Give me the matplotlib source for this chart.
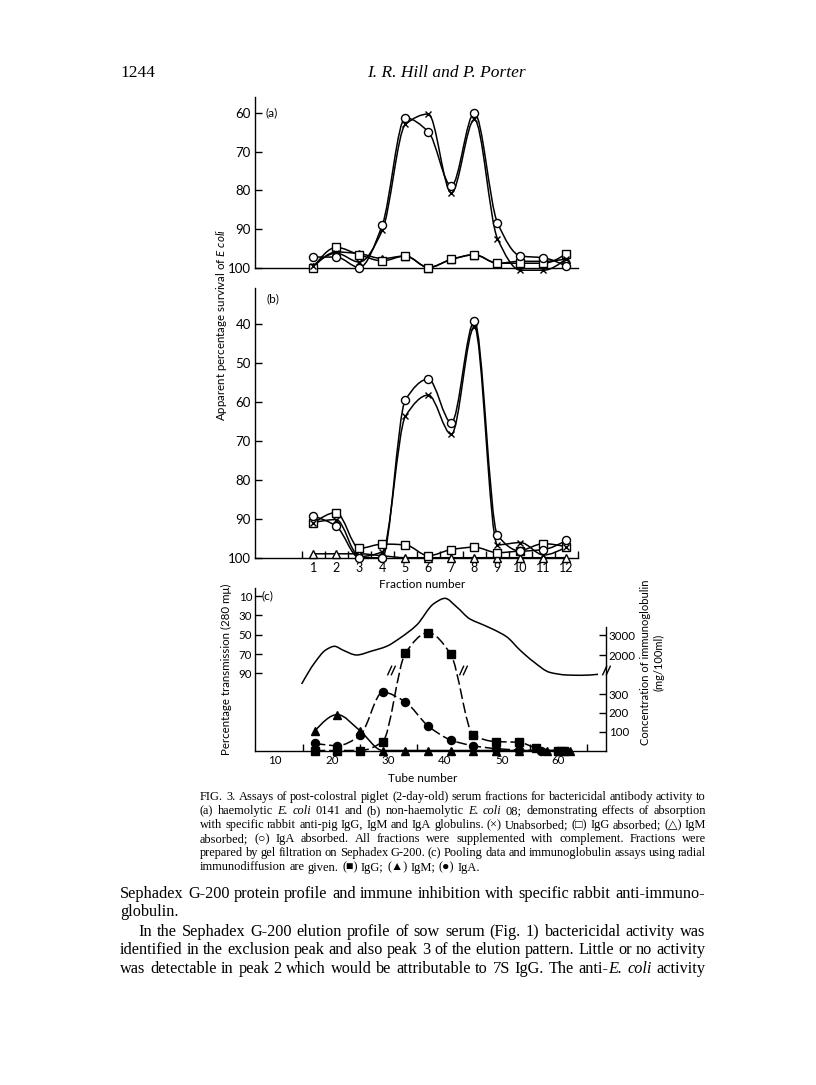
import numpy as np
import matplotlib
matplotlib.use("Agg")
import matplotlib.pyplot as plt
from matplotlib.path import Path
from matplotlib.patches import PathPatch

W, H = 816, 1085

# ---- data ----
fractions = np.arange(1, 13)

# (a) haemolytic E. coli 0141, apparent % survival
a_unabs = [99.5, 96.3, 98.6, 90.4, 63.0, 60.3, 80.7, 61.7, 92.5, 100.7, 100.7, 97.7]
a_igg = [100.0, 94.8, 96.7, 98.3, 97.0, 100.0, 97.9, 96.7, 98.9, 98.9, 98.9, 96.4]
a_igm = [99.9, 96.0, 96.4, 97.7, 97.0, 100.0, 97.9, 96.7, 98.9, 98.4, 98.4, 97.8]
a_iga = [97.3, 97.3, 100.0, 89.0, 61.3, 64.9, 78.9, 60.0, 88.4, 97.0, 97.5, 99.7]

# (b) non-haemolytic E. coli 08
b_unabs = [91.0, 90.2, 99.7, 98.5, 63.7, 58.2, 68.3, 40.6, 96.7, 96.1, 99.3, 97.2]
b_igg = [91.2, 88.4, 97.6, 96.5, 96.7, 99.5, 97.9, 97.3, 98.7, 98.2, 96.4, 97.2]
b_igm = [99.0, 99.0, 99.0, 99.5, 100.0, 100.0, 100.0, 100.0, 100.0, 100.0, 100.0, 100.0]
b_iga = [89.3, 91.9, 100.0, 100.0, 59.5, 54.1, 65.3, 39.2, 94.2, 98.3, 97.9, 95.5]

# (c) protein profile, % transmission at 280 mu
tube_prot = [14.7, 17, 19, 20.5, 22, 24.4, 27, 29.7, 32, 35, 38, 40, 42, 44.4, 46,
             48.5, 50.9, 53.2, 55.6, 58.5, 61.5, 64, 67]
trans_prot = [101, 79, 65.6, 62, 66, 71, 67, 62, 53.7, 40, 18, 12.4, 21, 33.8, 38,
              44.5, 52.3, 65.8, 77.9, 89, 91.7, 92, 91]

# (c) immunoglobulin concentration, mg/100 ml
tube_igg = [17, 21, 25, 29, 33, 37, 41, 45, 49, 53, 56, 60, 61]
conc_igg = [0, 0, 0, 47, 2085, 3115, 2035, 82, 47, 44, 15, 0, 0]
tube_iga = [17, 21, 25, 29, 33, 37, 41, 45, 49, 53, 57, 60, 61]
conc_iga = [38, 26, 80, 310, 258, 131, 56, 25, 10, 3, 0, 0, 0]
tube_igm = [17, 21, 25, 29, 33, 37, 41, 45, 49, 53, 58, 62]
conc_igm = [103, 191, 105, 0, 0, 0, 0, 0, 0, 0, 0, 0]

plt.rcParams["font.family"] = ["Lato", "DejaVu Sans"]
plt.rcParams["mathtext.fontset"] = "custom"
plt.rcParams["mathtext.it"] = "Lato:italic"
plt.rcParams["mathtext.rm"] = "Lato"

LW = 1.1


def mono_path(x, y):
    # monotone cubic (Fritsch-Carlson) drawn as bezier segments
    x = np.asarray(x, float)
    y = np.asarray(y, float)
    h = np.diff(x)
    d = np.diff(y) / h
    n = len(x)
    m = np.zeros(n)
    for i in range(1, n - 1):
        if d[i - 1] * d[i] > 0:
            h0, h1 = h[i - 1], h[i]
            m[i] = 3 * (h0 + h1) / ((2 * h1 + h0) / d[i - 1] + (h1 + 2 * h0) / d[i])
    m[0] = (3 * d[0] - m[1]) / 2 if n > 2 else d[0]
    m[-1] = (3 * d[-1] - m[-2]) / 2 if n > 2 else d[-1]
    verts = [(x[0], y[0])]
    codes = [Path.MOVETO]
    for i in range(n - 1):
        verts += [(x[i] + h[i] / 3, y[i] + m[i] * h[i] / 3),
                  (x[i + 1] - h[i] / 3, y[i + 1] - m[i + 1] * h[i] / 3),
                  (x[i + 1], y[i + 1])]
        codes += [Path.CURVE4] * 3
    return np.array(verts), codes


def curve(ax, x, y, fwd=None, inv=None, **kw):
    if fwd is not None:
        v, c = mono_path(x, fwd(np.asarray(y, float)))
        v[:, 1] = inv(v[:, 1])
    else:
        v, c = mono_path(x, y)
    ax.add_patch(PathPatch(Path(v, c), fill=False, lw=LW, color="black",
                           clip_on=False, **kw))


def marks(ax, x, y, m, ms, filled=False, z=5):
    ax.plot(x, y, linestyle="none", marker=m, ms=ms,
            mfc="black" if filled else "white", mec="black", mew=1.0,
            clip_on=False, zorder=z)


fig = plt.figure(figsize=(W / 100, H / 100), dpi=100)


def box(x0, y0, x1, y1):
    return [x0 / W, 1 - y1 / H, (x1 - x0) / W, (y1 - y0) / H]


def survival_panel(ax, top, series):
    ax.patch.set_visible(False)
    ax.set_xlim(-1.53, 12.5)
    ax.set_ylim(100, top)
    for s in ("top", "right"):
        ax.spines[s].set_visible(False)
    for s in ("left", "bottom"):
        ax.spines[s].set_linewidth(1.0)
    ax.tick_params(axis="y", direction="in", length=5, width=1.0, labelsize=9.5, pad=3)
    for vals, m, ms in series:
        curve(ax, fractions, vals)
        marks(ax, fractions, vals, m, ms)


# (a)
ax_a = fig.add_axes(box(255, 97, 578, 267.5))
survival_panel(ax_a, 55.9, [(a_igm, "^", 5.2), (a_igg, "s", 5.2), (a_unabs, "x", 4.8),
                            (a_iga, "o", 5.8)])
ax_a.set_yticks([60, 70, 80, 90, 100])
ax_a.set_xticks([])
ax_a.text(-1.09, 60, "(a)", fontsize=8.5, va="center")

# (b)
ax_b = fig.add_axes(box(255, 288, 578, 557.7))
survival_panel(ax_b, 30.7, [(b_igm, "^", 5.2), (b_igg, "s", 5.2), (b_unabs, "x", 4.8),
                            (b_iga, "o", 5.8)])
ax_b.set_yticks([40, 50, 60, 70, 80, 90, 100])
ax_b.set_xticks(np.arange(0.5, 13, 1))
ax_b.set_xticklabels([])
ax_b.set_xticks(fractions, minor=True)
ax_b.set_xticklabels([str(f) for f in fractions], minor=True)
ax_b.tick_params(axis="x", which="major", direction="in", length=5, width=1.0)
ax_b.tick_params(axis="x", which="minor", length=0, labelsize=9, pad=3)
ax_b.text(-1.05, 33.6, "(b)", fontsize=8.5, va="center")
fig.text(422 / W, 1 - 585 / H, "Fraction number", fontsize=8.5, ha="center", va="center")

fig.text(222 / W, 1 - 325 / H, r"Apparent percentage survival of $\mathit{E\ coli}$",
         rotation=90, fontsize=8.3, ha="center", va="center")

# (c)
ax_c = fig.add_axes(box(255, 588, 606, 750.5))
ax_c.patch.set_visible(False)
ax_c.set_xlim(6.47, 68.4)
ax_c.set_ylim(169.8, 1.7)
for s in ("top", "right"):
    ax_c.spines[s].set_visible(False)
for s in ("left", "bottom"):
    ax_c.spines[s].set_linewidth(1.0)
ax_c.set_yticks([10, 30, 50, 70, 90])
ax_c.tick_params(axis="y", direction="in", length=5, width=1.0, labelsize=8.3, pad=2)
ax_c.set_xticks(np.arange(15, 66, 10))
ax_c.set_xticklabels([])
ax_c.set_xticks(np.arange(10, 61, 10), minor=True)
ax_c.set_xticklabels([str(t) for t in range(10, 61, 10)], minor=True)
ax_c.tick_params(axis="x", which="major", direction="in", length=5, width=1.0)
ax_c.tick_params(axis="x", which="minor", length=0, labelsize=8.3, pad=3)
fig.text(423 / W, 1 - 778 / H, "Tube number", fontsize=8.5, ha="center", va="center")
ax_c.set_ylabel("Percentage transmission (280 m\u03bc)", fontsize=8.3, labelpad=5)
ax_c.text(7.6, 10, "(c)", fontsize=8.5, va="center")
curve(ax_c, tube_prot, trans_prot)


def fwd(c):
    c = np.asarray(c, float)
    return np.where(c <= 400, c * 0.188,
                    np.where(c < 1500, 75.2 + (c - 400) * 10.3 / 1100, 95.5 + (c - 2000) * 0.02))


def inv(u):
    u = np.asarray(u, float)
    return np.where(u <= 75.2, u / 0.188,
                    np.where(u < 85.5, 400 + (u - 75.2) * 1100 / 10.3, 2000 + (u - 95.5) / 0.02))


ax_r = ax_c.twinx()
ax_r.patch.set_visible(False)
ax_r.set_yscale("function", functions=(fwd, inv))
ax_r.set_ylim(0, 5350)
for s in ("top", "left", "bottom"):
    ax_r.spines[s].set_visible(False)
ax_r.spines["right"].set_linewidth(1.0)
ax_r.spines["right"].set_bounds(0, 3400)
ax_r.set_yticks([100, 200, 300, 2000, 3000])
ax_r.set_yticklabels(["100", "200", "300", "2000", "3000"])
ax_r.tick_params(axis="y", direction="in", length=5, width=1.0, labelsize=8.3, pad=2)
ax_r.yaxis.set_minor_locator(matplotlib.ticker.NullLocator())

dash = (0, (7, 2.5))
curve(ax_r, tube_igm, conc_igm, fwd, inv)
curve(ax_r, tube_iga, conc_iga, fwd, inv, linestyle=dash)
curve(ax_r, tube_igg, conc_igg, fwd, inv, linestyle=dash)
marks(ax_r, tube_igm, conc_igm, "^", 5.2, True)
marks(ax_r, tube_iga, conc_iga, "o", 5.8, True)
marks(ax_r, tube_igg, conc_igg, "s", 5.6, True)

brk = Path([(-1, -1.2), (0.1, 1.2), (-0.1, -1.2), (1, 1.2)],
           [Path.MOVETO, Path.LINETO, Path.MOVETO, Path.LINETO])
for t in (30.5, 43.1):
    ax_r.plot(t, 1000, marker=brk, ms=7, mec="black", mew=1.0, ls="none", zorder=6)
ax_r.plot(1, 950, marker=brk, ms=7, mec="black", mew=1.0, ls="none", zorder=6,
          transform=ax_r.get_yaxis_transform(), clip_on=False)

fig.text(652 / W, 1 - 662 / H, "Concentration of immunoglobulin\n(mg/100ml)",
         rotation=90, fontsize=8, ha="center", va="center", linespacing=1.3)

# ---- page text ----
renderer = fig.canvas.get_renderer()
SERIF = ["Liberation Serif", "DejaVu Serif", "DejaVu Sans"]


def line_text(y, x0, x1, line, size, justify=True):
    items = []
    for w in line.split():
        pieces = []
        for p in w.split("+"):
            it = len(p) > 2 and p.startswith("_") and p.endswith("_")
            txt = p[1:-1] if it else p
            t = fig.text(0, 1 - y / H, txt, fontsize=size, family=SERIF,
                         style="italic" if it else "normal", va="baseline")
            pieces.append((t, t.get_window_extent(renderer).width))
        items.append(pieces)
    total = sum(wd for pcs in items for _, wd in pcs)
    if justify and len(items) > 1:
        gap = (x1 - x0 - total) / (len(items) - 1)
    else:
        gap = size * 100 / 72 * 0.27
    x = x0
    for pcs in items:
        for t, wd in pcs:
            t.set_x(x / W)
            x += wd
        x += gap


fig.text(120 / W, 1 - 77 / H, "1244", fontsize=12.5, family=SERIF)
fig.text(446 / W, 1 - 77 / H, "I. R. Hill and P. Porter", fontsize=12.5, family=SERIF,
         style="italic", ha="center")

caption = [
    "FIG. 3. Assays of post-colostral piglet (2-day-old) serum fractions for bactericidal antibody activity to",
    "(a) haemolytic _E._ _coli_ 0141 and (b) non-haemolytic _E._ _coli_ 08; demonstrating effects of absorption",
    "with specific rabbit anti-pig IgG, IgM and IgA globulins. (\u00d7) Unabsorbed; (\u25a1) IgG absorbed; (\u25b3) IgM",
    "absorbed; (\u25cb) IgA absorbed. All fractions were supplemented with complement. Fractions were",
    "prepared by gel filtration on Sephadex G-200. (c) Pooling data and immunoglobulin assays using radial",
    "immunodiffusion are given. (\u25a0) IgG; (\u25b2) IgM; (\u25cf) IgA.",
]
for i, ln in enumerate(caption):
    line_text(800 + i * 14.1, 200, 706, ln, 8.9, justify=i < len(caption) - 1)

body = [
    (120, "Sephadex G-200 protein profile and immune inhibition with specific rabbit anti-immuno-", True),
    (120, "globulin.", False),
    (138, "In the Sephadex G-200 elution profile of sow serum (Fig. 1) bactericidal activity was", True),
    (120, "identified in the exclusion peak and also peak 3 of the elution pattern. Little or no activity", True),
    (120, "was detectable in peak 2 which would be attributable to 7S IgG. The anti-+_E._ _coli_ activity", True),
]
for (x0, ln, j), y in zip(body, [897.5, 916, 936, 954.5, 973]):
    line_text(y, x0, 705, ln, 11.7, justify=j)

fig.savefig("out.png", dpi=100)
